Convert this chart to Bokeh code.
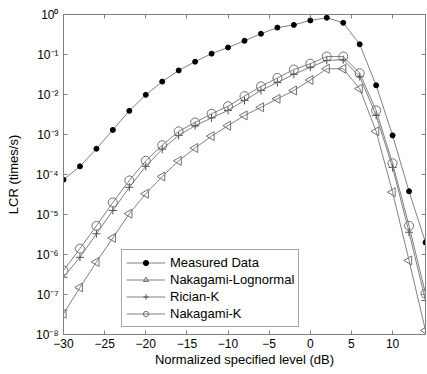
from bokeh.plotting import figure
from bokeh.models import (FixedTicker, CustomJSTickFormatter, Legend, LegendItem,
                          LogAxis, LinearAxis, Range1d)
from bokeh.embed import file_html
from bokeh.resources import INLINE
import numpy as np

level_db = [-30, -28, -26, -24, -22, -20, -18, -16, -14, -12, -10, -8, -6, -4, -2,
            0, 2, 4, 6, 8, 10, 12, 14]

measured = [7.4e-5, 1.6e-4, 4.4e-4, 1.3e-3, 3.9e-3, 9.8e-3, 2.1e-2, 4.0e-2, 6.6e-2,
            0.105, 0.15, 0.22, 0.33, 0.47, 0.55, 0.71, 0.83, 0.62, 0.18, 1.7e-2,
            9.5e-4, 3.8e-5, 2.0e-6]

nakagami_lognormal = [3.3e-8, 1.5e-7, 6.5e-7, 2.6e-6, 1.05e-5, 3.3e-5, 8.9e-5, 2.2e-4,
                      4.6e-4, 9.1e-4, 1.66e-3, 3.0e-3, 4.8e-3, 7.8e-3, 1.26e-2, 2.3e-2,
                      4.4e-2, 4.4e-2, 1.4e-2, 1.2e-3, 3.6e-5, 7.1e-7, 1.26e-8]

rician_k = [2.7e-7, 8.5e-7, 3.3e-6, 1.26e-5, 4.8e-5, 1.6e-4, 4.3e-4, 9.5e-4, 1.66e-3,
            2.6e-3, 4.0e-3, 7.1e-3, 1.26e-2, 2.0e-2, 3.2e-2, 4.8e-2, 7.1e-2, 7.4e-2,
            2.8e-2, 3.0e-3, 1.5e-4, 3.6e-6, 7.1e-8]

nakagami_k = [4.0e-7, 1.4e-6, 5.2e-6, 2.0e-5, 7.1e-5, 2.2e-4, 5.4e-4, 1.2e-3, 2.0e-3,
              3.3e-3, 5.1e-3, 9.1e-3, 1.6e-2, 2.6e-2, 4.2e-2, 5.9e-2, 8.9e-2, 8.9e-2,
              3.4e-2, 4.0e-3, 1.9e-4, 5.2e-6, 1.05e-7]

x_ticks = [-30, -25, -20, -15, -10, -5, 0, 5, 10]
y_ticks = [1e-8, 1e-7, 1e-6, 1e-5, 1e-4, 1e-3, 1e-2, 1e-1, 1e0]

FONT = "Liberation Sans"
LINE = "#808080"
EDGE = "#707070"

p = figure(width=427, height=372, y_axis_type="log",
           x_range=Range1d(-30, 14), y_range=Range1d(1e-8, 1),
           output_backend="svg", toolbar_location=None,
           min_border_left=63, min_border_right=2, min_border_top=14,
           min_border_bottom=38)
p.xgrid.visible = False
p.ygrid.visible = False
p.outline_line_color = LINE
p.background_fill_color = "white"

sup_js = """
const s = {'-':'\u207b','0':'\u2070','1':'\u00b9','2':'\u00b2','3':'\u00b3','4':'\u2074',
           '5':'\u2075','6':'\u2076','7':'\u2077','8':'\u2078','9':'\u2079'};
const e = Math.round(Math.log10(tick));
return '10' + String(e).split('').map(c => s[c]).join('');
"""

def style_axis(ax):
    ax.axis_line_color = LINE
    ax.major_tick_line_color = LINE
    ax.major_tick_in = 4
    ax.major_tick_out = 0
    ax.minor_tick_line_color = None
    ax.major_label_text_font = FONT
    ax.major_label_text_font_size = "12px"
    ax.major_label_text_color = "black"
    ax.axis_label_text_font = FONT
    ax.axis_label_text_font_size = "13px"
    ax.axis_label_text_font_style = "normal"
    ax.axis_label_text_color = "black"

xa = p.xaxis[0]
ya = p.yaxis[0]
style_axis(xa)
style_axis(ya)
xa.ticker = FixedTicker(ticks=x_ticks)
ya.ticker = FixedTicker(ticks=y_ticks)
ya.formatter = CustomJSTickFormatter(code=sup_js)
xa.axis_label = "Normalized specified level (dB)"
ya.axis_label = "LCR (times/s)"
xa.major_label_standoff = 4
xa.axis_label_standoff = 1
ya.major_label_standoff = 5
ya.axis_label_standoff = 12

top = LinearAxis(ticker=FixedTicker(ticks=x_ticks),
                 formatter=CustomJSTickFormatter(code="return '';"))
right = LogAxis(ticker=FixedTicker(ticks=y_ticks),
                formatter=CustomJSTickFormatter(code="return '';"))
for ax in (top, right):
    style_axis(ax)
    ax.major_label_standoff = 0
    ax.major_label_text_font_size = "1px"
p.add_layout(top, "above")
p.add_layout(right, "right")

r_m_l = p.line(level_db, measured, line_color=LINE, line_width=1)
r_m_s = p.scatter(level_db, measured, marker="circle", size=5,
                  fill_color="black", line_color="black")

r_nl_l = p.line(level_db, nakagami_lognormal, line_color=LINE, line_width=1)
r_nl_s = p.scatter(level_db, nakagami_lognormal, marker="triangle", size=9,
                   angle=np.pi / 2, fill_color=None, line_color=EDGE)

r_r_l = p.line(level_db, rician_k, line_color=LINE, line_width=1)
r_r_s = p.scatter(level_db, rician_k, marker="cross", size=8,
                  line_color="#505050")

r_nk_l = p.line(level_db, nakagami_k, line_color=LINE, line_width=1)
r_nk_s = p.scatter(level_db, nakagami_k, marker="circle", size=9,
                   fill_color=None, line_color=EDGE)

legend = Legend(items=[
    LegendItem(label="Measured Data", renderers=[r_m_l, r_m_s]),
    LegendItem(label="Nakagami-Lognormal", renderers=[r_nl_l, r_nl_s]),
    LegendItem(label="Rician-K", renderers=[r_r_l, r_r_s]),
    LegendItem(label="Nakagami-K", renderers=[r_nk_l, r_nk_s]),
], location=(58, 7))
legend.label_text_font = FONT
legend.label_text_font_size = "13px"
legend.label_text_color = "black"
legend.border_line_color = "#505050"
legend.border_line_width = 1
legend.padding = 4
legend.spacing = 0
legend.margin = 0
legend.label_height = 17
legend.glyph_height = 13
legend.glyph_width = 39
legend.label_standoff = 5
legend.background_fill_alpha = 1
p.add_layout(legend, "center")

open("out.html", "w").write(file_html(p, INLINE))
